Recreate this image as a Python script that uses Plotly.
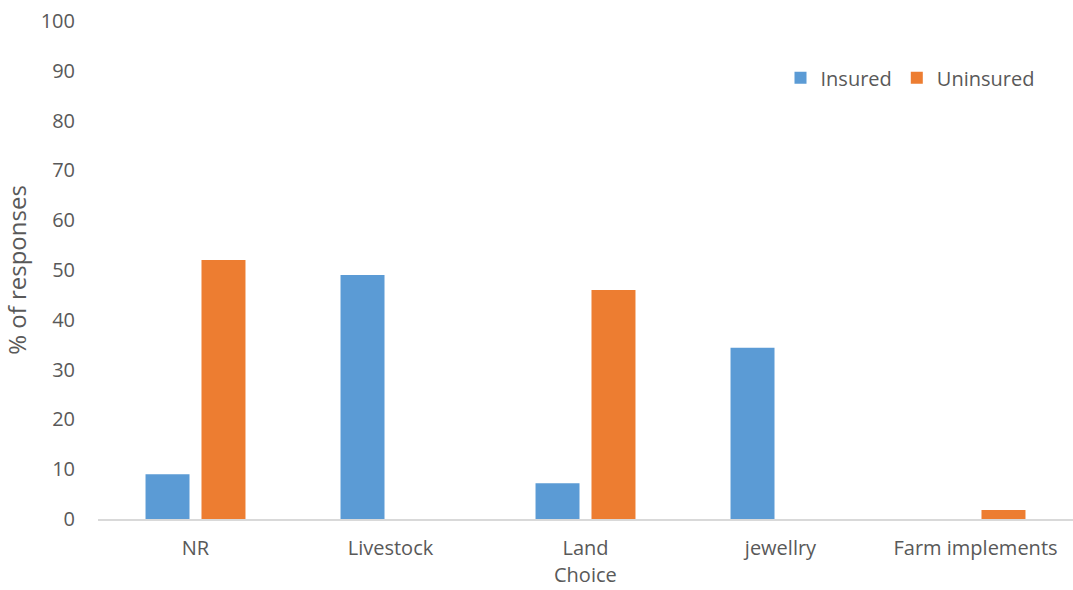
import plotly.graph_objects as go

categories = ["NR", "Livestock", "Land", "jewellry", "Farm implements"]
insured = [9, 49, 7.2, 34.4, 0]
uninsured = [52, 0, 46, 0, 1.8]
y_ticks = [0, 10, 20, 30, 40, 50, 60, 70, 80, 90, 100]

FONT = "'Open Sans', sans-serif"
TEXT = "#595959"

fig = go.Figure()
fig.add_trace(go.Bar(name="Insured", x=categories, y=insured,
                     marker=dict(color="#5b9bd5", line=dict(width=0))))
fig.add_trace(go.Bar(name="Uninsured", x=categories, y=uninsured,
                     marker=dict(color="#ed7d31", line=dict(width=0))))

fig.update_layout(
    width=1073, height=590,
    margin=dict(l=98, r=0, t=21, b=71),
    paper_bgcolor="white", plot_bgcolor="white",
    barmode="group", bargap=0.426, bargroupgap=0.214,
    font=dict(family=FONT, color=TEXT, size=20),
    showlegend=True,
    legend=dict(orientation="h", x=0.7, y=0.886, xanchor="left", yanchor="middle",
                font=dict(size=20, color=TEXT), itemwidth=30, traceorder="normal",
                bgcolor="rgba(0,0,0,0)"),
    xaxis=dict(
        showline=True, linecolor="#d9d9d9", linewidth=2,
        ticks="", tickfont=dict(size=20, color=TEXT), ticklabelstandoff=10,
        showgrid=False,
    ),
    yaxis=dict(
        title=dict(text="% of responses", font=dict(size=24, color=TEXT), standoff=11),
        range=[0, 100], tickvals=y_ticks, showgrid=False, zeroline=False,
        showline=False, ticks="", tickfont=dict(size=20, color=TEXT),
        ticklabelstandoff=22,
    ),
)

# x-axis title placed as a paper annotation below the category labels
fig.add_annotation(text="Choice", xref="paper", yref="paper", x=0.5, y=-0.1415,
                   xanchor="center", yanchor="bottom", showarrow=False,
                   borderpad=0, font=dict(size=20, color=TEXT))

fig.write_html("out.html")
